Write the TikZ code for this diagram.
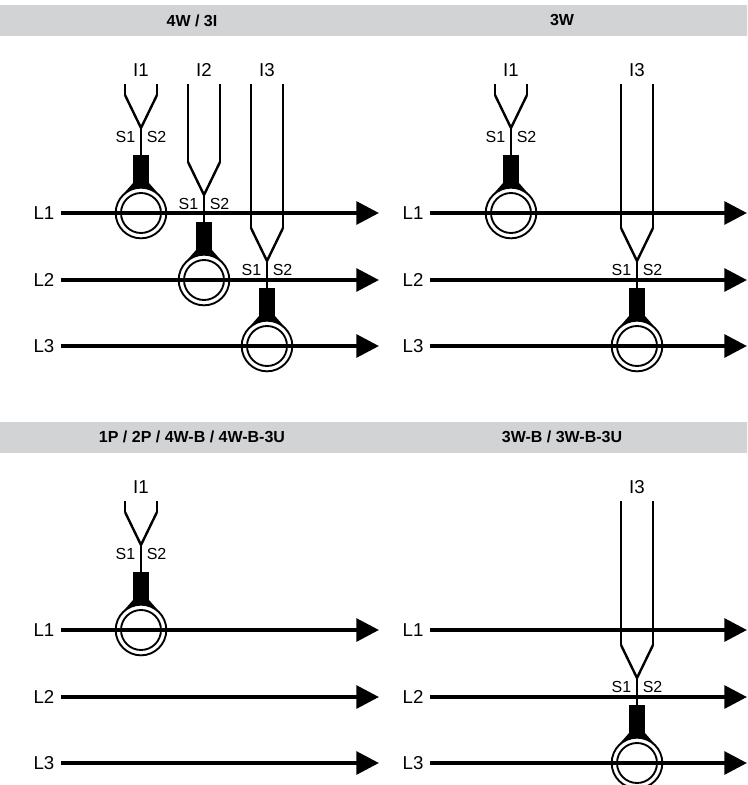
\documentclass[tikz,border=0pt]{standalone}
\usepackage{fontspec}
\setmainfont{Liberation Sans}
\usetikzlibrary{arrows.meta}

\definecolor{headgray}{HTML}{D2D3D5}

\tikzset{
  header/.style={fill=headgray,inner sep=0pt,minimum width=369.75pt,minimum height=23.25pt,font=\fontsize{12}{14}\selectfont\bfseries},
  phase/.style={line width=3pt,-{Triangle[length=17pt,width=17pt]}},
  phaselabel/.style={inner sep=4.6pt,font=\fontsize{14}{16}\selectfont},
  ringouter/.style={circle,draw,line width=1.4pt,fill=white,inner sep=0pt,minimum size=38pt},
  ringinner/.style={circle,draw,line width=1.4pt,inner sep=0pt,minimum size=30pt},
  coreblock/.style={fill=black,inner sep=0pt,minimum width=12pt,minimum height=24pt,anchor=north},
  arm/.style={line width=1.8pt},
  lead/.style={line width=0.9pt},
  stem/.style={line width=1.4pt},
  tap/.style={inner sep=0pt,font=\fontsize{12}{14}\selectfont},
  current/.style={inner sep=0pt,font=\fontsize{14}{16}\selectfont},
}

% name, x, y of the ring, label, y where the leads end
\newcommand{\ctsensor}[5]{
  \fill ({#2-8},{#3-30}) -- ({#2+8},{#3-30}) -- ({#2+22},{#3-14}) -- ({#2-22},{#3-14}) -- cycle;
  \node[ringouter] (#1) at (#2,#3) {};
  \node[ringinner] (#1-in) at (#2,#3) {};
  \node[coreblock] (#1-core) at (#2,{#3-58}) {};
  \coordinate (#1-y) at (#2,{#3-85});
  \coordinate (#1-la) at ({#2-16},{#3-118});
  \coordinate (#1-ra) at ({#2+16},{#3-118});
  \coordinate (#1-lt) at ({#2-16},#5);
  \coordinate (#1-rt) at ({#2+16},#5);
  \draw[stem] (#1-y) -- (#1-core.north);
  \draw[arm,line join=round] (#1-la) -- (#1-y) -- (#1-ra);
  \draw[lead] (#1-lt) -- (#1-la);
  \draw[lead] (#1-rt) -- (#1-ra);
  \node[tap,anchor=east] (#1-s1) at ({#2-5.5},{#3-76}) {S1};
  \node[tap,anchor=west] (#1-s2) at ({#2+5.5},{#3-76}) {S2};
  \node[current] (#1-name) at (#2,{#5-14}) {#4};
}

% name, x of the label, x of the tip, y, label
\newcommand{\phaseline}[5]{
  \node[phaselabel] (#1) at (#2,#4) {#5};
  \coordinate (#1-end) at (#3,#4);
  \draw[phase] (#1.east) -- (#1-end);
}

\begin{document}
\begin{tikzpicture}[x=0.75pt,y=-0.75pt]

    \clip (0,0) rectangle (747,785);

    % Headers
    \node[header] (topleft) at (192,20.5) {};
    \node[header] (topright) at (562,20.5) {3W};
    \node[header] (botleft) at (192,437) {};
    \node[header] (botright) at (562,437) {3W-B / 3W-B-3U};
    \node[font=\fontsize{12}{14}\selectfont\bfseries,inner sep=0pt] (topleftname) at (topleft) {4W / 3I};
    \node[font=\fontsize{12}{14}\selectfont\bfseries,inner sep=0pt] (botleftname) at (botleft) {1P / 2P / 4W-B / 4W-B-3U};

    % 4W / 3I
    \ctsensor{ai}{141}{213}{I1}{84}
    \ctsensor{aii}{204}{280}{I2}{84}
    \ctsensor{aiii}{267}{346}{I3}{84}
    \phaseline{al1}{44}{379}{213}{L1}
    \phaseline{al2}{44}{379}{280}{L2}
    \phaseline{al3}{44}{379}{346}{L3}

    % 3W
    \ctsensor{bi}{511}{213}{I1}{84}
    \ctsensor{biii}{637}{346}{I3}{84}
    \phaseline{bl1}{413}{747}{213}{L1}
    \phaseline{bl2}{413}{747}{280}{L2}
    \phaseline{bl3}{413}{747}{346}{L3}

    % 1P / 2P / 4W-B / 4W-B-3U
    \ctsensor{ci}{141}{630}{I1}{501}
    \phaseline{cl1}{44}{379}{630}{L1}
    \phaseline{cl2}{44}{379}{697}{L2}
    \phaseline{cl3}{44}{379}{763}{L3}

    % 3W-B / 3W-B-3U
    \ctsensor{diii}{637}{763}{I3}{501}
    \phaseline{dl1}{413}{747}{630}{L1}
    \phaseline{dl2}{413}{747}{697}{L2}
    \phaseline{dl3}{413}{747}{763}{L3}

\end{tikzpicture}
\end{document}
